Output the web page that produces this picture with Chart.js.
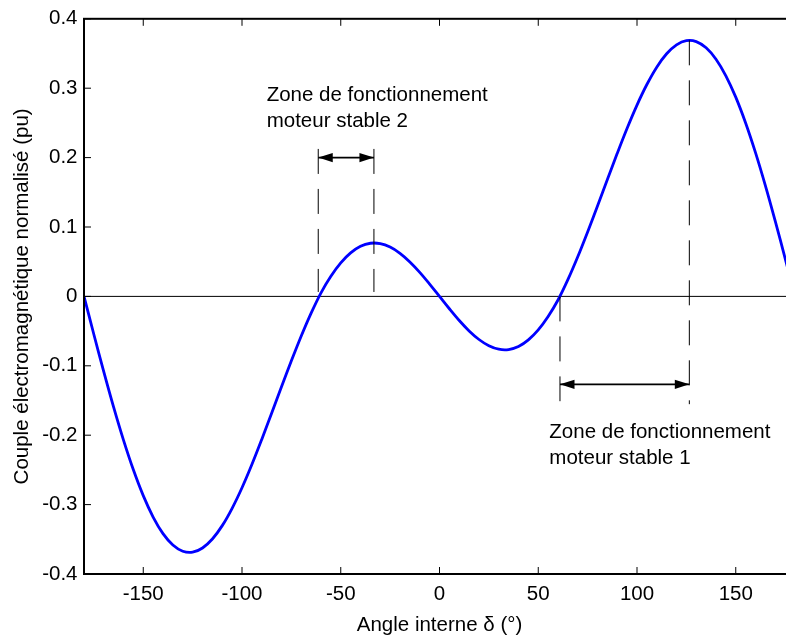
<!DOCTYPE html>
<html><head><meta charset="utf-8">
<script src="https://cdn.jsdelivr.net/npm/chart.js@4/dist/chart.umd.min.js"></script>
<style>html,body{margin:0;padding:0;overflow:hidden;background:#fff;width:786px;height:638px}</style>
</head><body>
<canvas id="c" width="800" height="638" style="display:block;width:800px;height:638px"></canvas>
<script>
// ---- data ----
const anglesDeg = [-180,-175,-170,-165,-160,-155,-150,-145,-140,-135,-130,-125,-120,-115,-110,-105,-100,-95,-90,-85,-80,-75,-70,-65,-60,-55,-50,-45,-40,-35,-30,-25,-20,-15,-10,-5,
  0,5,10,15,20,25,30,35,40,45,50,55,60,65,70,75,80,85,90,95,100,105,110,115,120,125,130,135,140,145,150,155,160,165,170,175,180];
const torquePu = [0,-0.0549,-0.1084,-0.1596,-0.2071,-0.2499,-0.2871,-0.3179,-0.3418,-0.3582,-0.3672,-0.3686,-0.3625,-0.3496,-0.3303,-0.3053,-0.2757,-0.2423,-0.2061,-0.1684,-0.1303,-0.0929,-0.0571,-0.0241,0.0052,0.0290,0.0483,0.0627,0.0722,0.0766,0.0761,0.0711,0.0621,0.0497,0.0347,0.0178,
  0,-0.0178,-0.0347,-0.0497,-0.0621,-0.0711,-0.0761,-0.0766,-0.0722,-0.0627,-0.0483,-0.0290,-0.0052,0.0241,0.0571,0.0929,0.1303,0.1684,0.2061,0.2423,0.2757,0.3053,0.3303,0.3496,0.3625,0.3686,0.3672,0.3582,0.3418,0.3179,0.2871,0.2499,0.2071,0.1596,0.1084,0.0549,0];
const xTickValues = [-150,-100,-50,0,50,100,150];
const yTickValues = [-0.4,-0.3,-0.2,-0.1,0,0.1,0.2,0.3,0.4];
const guideX = [-61.4, -33.2, 61.0, 126.5];
const guideTop = [0.2125, 0.2125, 0, 0.369];
const guideBottom = [0.0064, 0.0064, -0.151, -0.1553];
const arrowFrom = [-61.4, 61.0];
const arrowTo = [-33.2, 126.5];
const arrowY = [0.2, -0.1267];
const labelX = [-87.5, 55.6];
const labelY1 = [0.2822, -0.2044];
const labelY2 = [0.244, -0.2416];
const labelLine1 = ['Zone de fonctionnement', 'Zone de fonctionnement'];
const labelLine2 = ['moteur stable 2', 'moteur stable 1'];
const xTitle = 'Angle interne δ (°)';
const yTitle = 'Couple électromagnétique normalisé (pu)';

// ---- chart ----
const FONT = '"Liberation Sans", Arial, Helvetica, sans-serif';
const FS = 20.5;
Chart.defaults.font.family = FONT;
Chart.defaults.color = '#000';

const datasets = [];
guideX.forEach((gx, i) => datasets.push({
  data: [{x: gx, y: guideTop[i]}, {x: gx, y: guideBottom[i]}],
  borderColor: '#000', borderWidth: 1, borderDash: [25, 15], tension: 0, order: 0
}));
arrowFrom.forEach((ax, i) => datasets.push({
  data: [{x: ax, y: arrowY[i]}, {x: arrowTo[i], y: arrowY[i]}],
  borderColor: '#000', borderWidth: 1.6, tension: 0, order: 0
}));
datasets.push({
  data: anglesDeg.map((a, i) => ({x: a, y: torquePu[i]})),
  borderColor: '#0000ff', borderWidth: 2.8, tension: 0.35, order: 1
});
datasets.push({
  data: [{x: -180, y: 0}, {x: 180, y: 0}],
  borderColor: '#000', borderWidth: 1, tension: 0, order: 2
});

const decor = {
  id: 'decor',
  afterDatasetsDraw(chart) {
    const {ctx, chartArea: a, scales: {x, y}} = chart;
    ctx.save();
    // arrowheads
    ctx.fillStyle = '#000';
    const head = (tx, ty, dir) => {
      const len = 14.5, hw = 4.6;
      ctx.beginPath();
      ctx.moveTo(tx, ty);
      ctx.lineTo(tx - dir * len, ty - hw);
      ctx.lineTo(tx - dir * len, ty + hw);
      ctx.closePath();
      ctx.fill();
    };
    arrowFrom.forEach((ax, i) => {
      const py = y.getPixelForValue(arrowY[i]);
      head(x.getPixelForValue(ax), py, -1);
      head(x.getPixelForValue(arrowTo[i]), py, 1);
    });
    // labels
    ctx.font = FS + 'px ' + FONT;
    ctx.textAlign = 'left';
    ctx.textBaseline = 'alphabetic';
    labelX.forEach((lx, i) => {
      const px = x.getPixelForValue(lx);
      ctx.fillText(labelLine1[i], px, y.getPixelForValue(labelY1[i]));
      ctx.fillText(labelLine2[i], px, y.getPixelForValue(labelY2[i]));
    });
    // frame
    ctx.strokeStyle = '#000';
    ctx.lineWidth = 2;
    ctx.strokeRect(a.left, a.top, a.right - a.left, a.bottom - a.top);
    // inward ticks
    ctx.lineWidth = 1;
    const tl = 7;
    ctx.beginPath();
    xTickValues.forEach(v => {
      const px = x.getPixelForValue(v);
      ctx.moveTo(px, a.bottom); ctx.lineTo(px, a.bottom - tl);
      ctx.moveTo(px, a.top); ctx.lineTo(px, a.top + tl);
    });
    yTickValues.forEach(v => {
      const py = y.getPixelForValue(v);
      ctx.moveTo(a.left, py); ctx.lineTo(a.left + tl, py);
      ctx.moveTo(a.right, py); ctx.lineTo(a.right - tl, py);
    });
    ctx.stroke();
    ctx.restore();
  }
};

new Chart(document.getElementById('c'), {
  type: 'line',
  data: {datasets},
  options: {
    responsive: false,
    animation: false,
    events: [],
    layout: {padding: {top: 15, right: 5, left: 0, bottom: 0}},
    elements: {point: {radius: 0}},
    plugins: {legend: {display: false}, tooltip: {enabled: false}},
    scales: {
      x: {
        type: 'linear', min: -180, max: 180,
        afterBuildTicks: s => { s.ticks = xTickValues.map(v => ({value: v})); },
        afterFit: s => { s.height = 64; },
        grid: {display: false, drawTicks: false},
        border: {display: false},
        ticks: {font: {size: FS}, color: '#000', padding: 8, maxRotation: 0, autoSkip: false,
          callback: v => String(v)},
        title: {display: true, text: xTitle, color: '#000', font: {size: FS, lineHeight: 1.2}, padding: {top: 0, bottom: 0.8}}
      },
      y: {
        type: 'linear', min: -0.4, max: 0.4,
        afterBuildTicks: s => { s.ticks = yTickValues.map(v => ({value: v})); },
        afterFit: s => { s.width = 84; },
        grid: {display: false, drawTicks: false},
        border: {display: false},
        ticks: {font: {size: FS}, color: '#000', padding: 6.5, autoSkip: false,
          callback: v => (Math.abs(v) < 1e-9 ? '0' : String(+v.toFixed(1)))},
        title: {display: true, text: yTitle, color: '#000', font: {size: FS, lineHeight: 1.2}, padding: {top: 9.7, bottom: 0}}
      }
    }
  },
  plugins: [decor]
});
</script>
</body></html>
